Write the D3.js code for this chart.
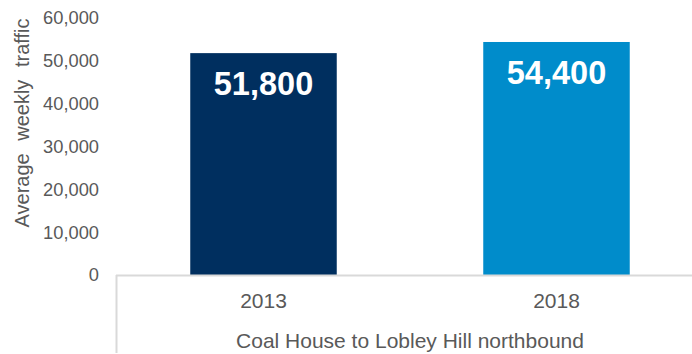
<!DOCTYPE html>
<html>
<head>
<meta charset="utf-8">
<script src="https://cdn.jsdelivr.net/npm/d3@7"></script>
<style>
  body { margin: 0; background: #fff; }
  text { font-family: "Liberation Sans", Arial, sans-serif; }
</style>
</head>
<body>
<svg id="chart" width="692" height="354"></svg>
<script>
// chart data
var years      = ['2013', '2018'];
var traffic    = [51800, 54400];
var barColors  = ['#002f5f', '#008ccb'];
var yTicks     = [0, 10000, 20000, 30000, 40000, 50000, 60000];
var groupLabel = 'Coal House to Lobley Hill northbound';
var yTitle     = 'Average weekly traffic';

var svg = d3.select('#chart');
var fmt = d3.format(',');

var x = d3.scaleBand().domain(years).range([117, 703]).padding(0);
var y = d3.scaleLinear().domain([0, 60000]).range([275, 18]);

var barW = x.bandwidth() * 0.5;

// bars
svg.selectAll('rect.bar')
    .data(years)
    .enter().append('rect')
    .attr('class', 'bar')
    .attr('x', function(d) { return x(d) + (x.bandwidth() - barW) / 2; })
    .attr('y', function(d, i) { return y(traffic[i]); })
    .attr('width', barW)
    .attr('height', function(d, i) { return y(0) - y(traffic[i]); })
    .attr('fill', function(d, i) { return barColors[i]; });

// value labels inside bars
svg.selectAll('text.val')
    .data(years)
    .enter().append('text')
    .attr('class', 'val')
    .attr('x', function(d) { return x(d) + x.bandwidth() / 2; })
    .attr('y', function(d, i) { return y(traffic[i]) + 42; })
    .attr('text-anchor', 'middle')
    .style('font-size', '32.5px')
    .style('font-weight', 'bold')
    .attr('fill', '#fff')
    .text(function(d, i) { return fmt(traffic[i]); });

// y axis tick labels (no axis line)
var yAxis = d3.axisLeft(y).tickValues(yTicks).tickFormat(fmt).tickSize(0).tickPadding(0);
var gy = svg.append('g').attr('transform', 'translate(99,0)').call(yAxis);
gy.select('.domain').remove();
gy.selectAll('text')
    .style('font-size', '18.3px')
    .style('font-family', '"Liberation Sans", Arial, sans-serif')
    .attr('fill', '#595959');

// x axis baseline and group divider
svg.append('line')
    .attr('x1', 116).attr('x2', 692)
    .attr('y1', y(0) + 0.5).attr('y2', y(0) + 0.5)
    .attr('stroke', '#d9d9d9').attr('stroke-width', 2);
svg.append('line')
    .attr('x1', 116.5).attr('x2', 116.5)
    .attr('y1', y(0)).attr('y2', 353)
    .attr('stroke', '#d9d9d9').attr('stroke-width', 2);

// category labels
svg.selectAll('text.cat')
    .data(years)
    .enter().append('text')
    .attr('class', 'cat')
    .attr('x', function(d) { return x(d) + x.bandwidth() / 2; })
    .attr('y', 308)
    .attr('text-anchor', 'middle')
    .style('font-size', '21px')
    .attr('fill', '#595959')
    .text(function(d) { return d; });

svg.append('text')
    .attr('x', (x.range()[0] + x.range()[1]) / 2)
    .attr('y', 348)
    .attr('text-anchor', 'middle')
    .style('font-size', '21px')
    .attr('fill', '#595959')
    .text(groupLabel);

// y title
svg.append('text')
    .attr('transform', 'translate(29,123) rotate(-90)')
    .attr('text-anchor', 'middle')
    .style('font-size', '20px')
    .style('word-spacing', '7px')
    .attr('fill', '#595959')
    .text(yTitle);
</script>
</body>
</html>
